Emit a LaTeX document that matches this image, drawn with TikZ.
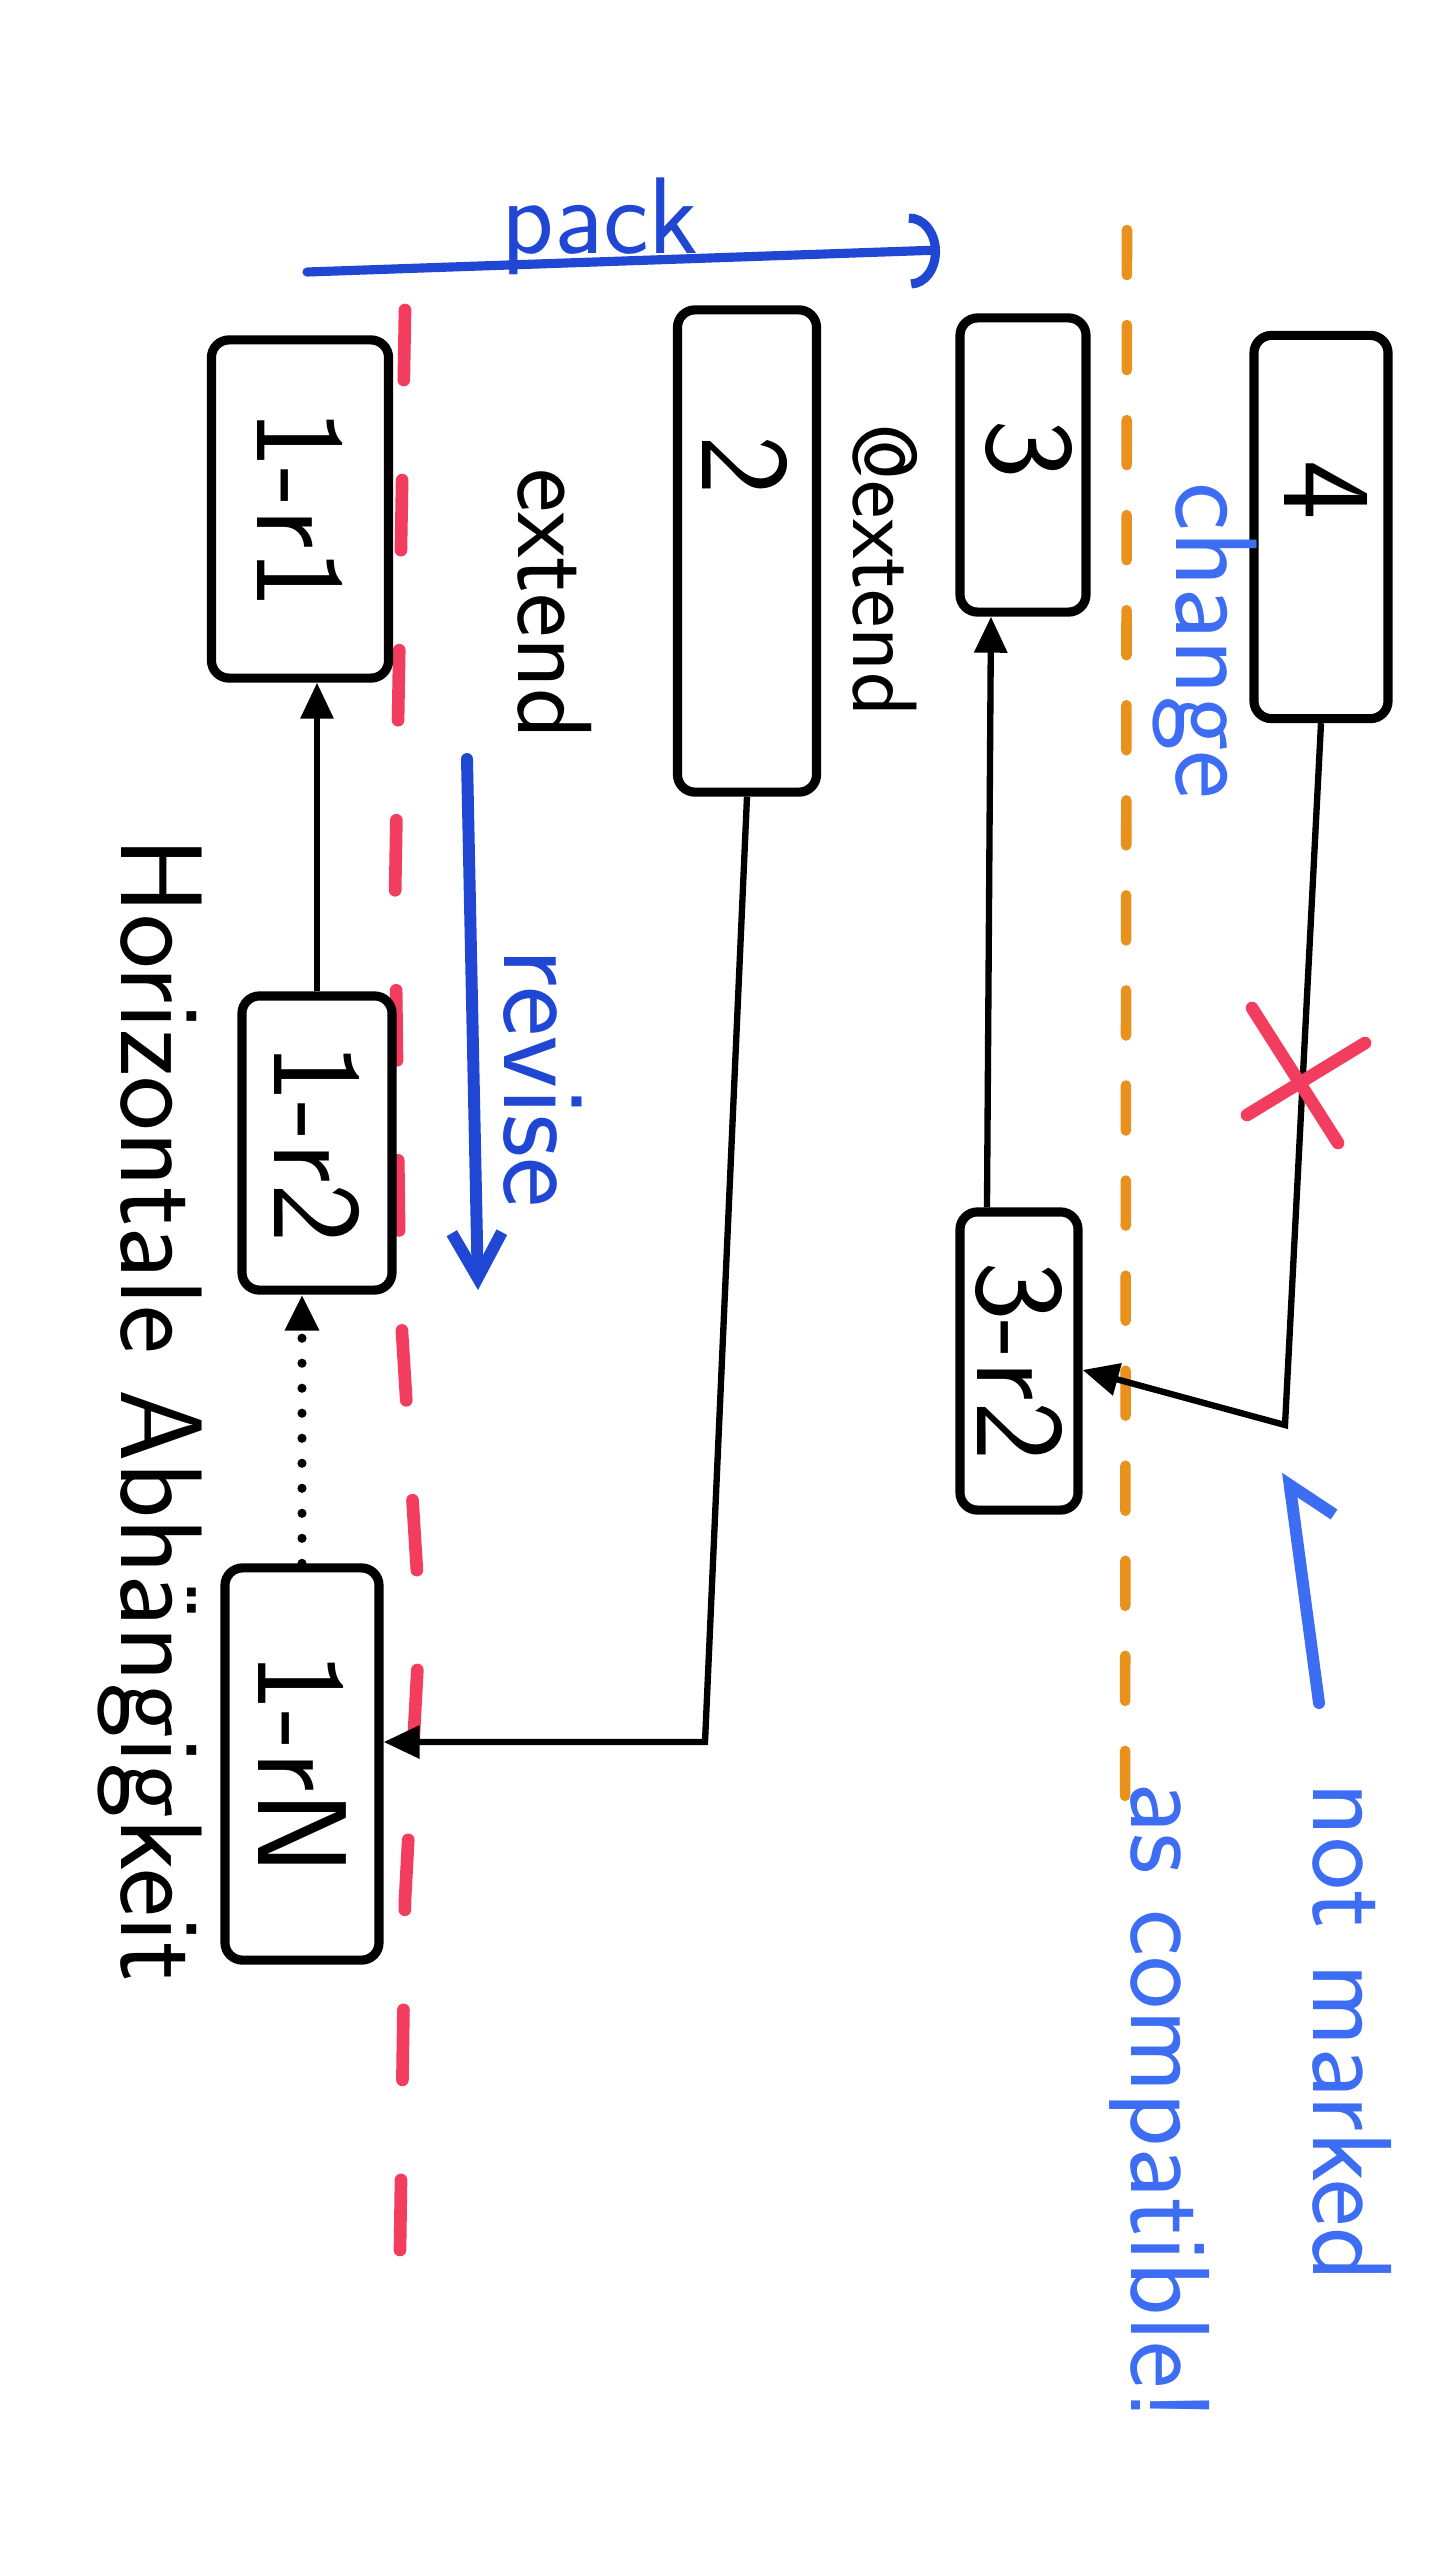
\documentclass[tikz,border=0pt]{standalone}
\usepackage{fontspec}
\usepackage{tikz}
\usetikzlibrary{arrows.meta, positioning}

\definecolor{penblue}{HTML}{1F47D4}
\definecolor{lightpen}{HTML}{3D6DF2}
\definecolor{penred}{HTML}{F23D5E}
\definecolor{penorange}{HTML}{E8911D}

\newcommand{\vtext}[1]{\rotatebox{-90}{#1}}

\tikzset{
    box/.style={draw, line width=2.6pt, rounded corners=5pt, inner sep=0pt,
        font=\sffamily\fontsize{36}{40}\selectfont},
    boxlabel/.style={inner sep=0pt, font=\sffamily\fontsize{36}{40}\selectfont},
    note/.style={inner sep=0pt, font=\sffamily\fontsize{30}{36}\selectfont},
    wide/.style={inner sep=0pt,
        font=\sffamily\fontsize{#1}{#1}\selectfont\addfontfeature{LetterSpace=5}},
    link/.style={line width=1.8pt, -{Triangle[length=0.36cm, width=0.32cm]}},
    redline/.style={penred, line width=3.6pt, line cap=round, dash pattern=on 0.7cm off 1cm},
    orangeline/.style={penorange, line width=3pt, line cap=round, dash pattern=on 0.45cm off 0.5cm},
}

\begin{document}
\begin{tikzpicture}[x=0.01cm, y=-0.01cm, node distance=0.5cm]
    \useasboundingbox [fill=white] (0,0) rectangle (1440,2560);

    % dashed borders
    \coordinate (red0) at (405,310);
    \coordinate (red1) at (395,900);
    \coordinate (red2) at (400,1300);
    \coordinate (red3) at (420,1620);
    \coordinate (red4) at (405,1900);
    \coordinate (red5) at (400,2250);
    \draw [redline] (red0) -- (red1) -- (red2) -- (red3) -- (red4) -- (red5);

    \coordinate (org0) at (1127,230);
    \coordinate (org1) at (1125,1835);
    \draw [orangeline] (org0) -- (org1);

    % revisions of 1
    \node (r1) [box, minimum width=1.77cm, minimum height=3.38cm] at (300,509) {\vtext{1-r1}};
    \node (r2) [box, minimum width=1.50cm, minimum height=2.94cm] at (317,1143) {\vtext{1-r2}};
    \node (rN) [box, minimum width=1.54cm, minimum height=3.92cm] at (302,1764) {\vtext{1-rN}};

    % the other ones
    \node (b2) [box, minimum width=1.39cm, minimum height=4.82cm] at (747,551) {};
    \node (b3) [box, minimum width=1.26cm, minimum height=2.94cm] at (1023,465) {};
    \node (b4) [box, minimum width=1.34cm, minimum height=3.83cm] at (1321,527) {};
    \node (r32) [box, minimum width=1.18cm, minimum height=2.98cm] at (1019,1361) {\vtext{3-r2}};

    \node (n2) [boxlabel] at (745,465) {\vtext{2}};
    \node (n3) [boxlabel] at (1029,449) {\vtext{3}};
    \node (n4) [boxlabel] at (1326,490) {\vtext{4}};

    % dependencies
    \coordinate (c2bend) at (705,1742);
    \coordinate (c4bend) at (1285,1425);
    \draw [link] (r2.north) -- (r2.north |- r1.south);
    \draw [link, dash pattern=on 0pt off 0.25cm, line width=2.6pt, line cap=round]
        (rN.north) -- (rN.north |- r2.south);
    \draw [link] (b2.south) -- (c2bend) -- (c2bend -| rN.east);
    \draw [link] ([xshift=-0.32cm]r32.north) -- ([xshift=-0.32cm]b3.south);
    \draw [link] (b4.south) -- (c4bend) -- (r32.-8);

    % broken one
    \coordinate (xa0) at (1252,1008);
    \coordinate (xa1) at (1338,1143);
    \coordinate (xb0) at (1247,1115);
    \coordinate (xb1) at (1365,1043);
    \draw [penred, line width=3.6pt, line cap=round] (xa0) -- (xa1) (xb0) -- (xb1);

    % blue remarks
    \coordinate (packL) at (307,272);
    \coordinate (packR) at (940,250);
    \draw [penblue, line width=2.6pt, line cap=round,
        -{Arc Barb[length=0.3cm, width=0.75cm]}] (packL) -- (packR);
    \node (lblpack) [wide=31, penblue] at (600,226) {pack};

    \coordinate (revT) at (467,759);
    \coordinate (revB) at (478,1290);
    \draw [penblue, line width=3.4pt, line cap=round,
        -{Straight Barb[length=0.45cm, width=0.5cm]}] (revT) -- (revB);
    \node (lblrevise) [wide=34, penblue] at (543,1078) {\vtext{revise}};

    \node (lblchange) [wide=33, lightpen] at (1205,641) {\vtext{change}};

    \coordinate (warnB) at (1319,1703);
    \coordinate (warnT) at (1288,1472);
    \draw [lightpen, line width=3.4pt, line cap=round,
        -{Straight Barb[right, length=0.35cm, width=0.8cm]}] (warnB) -- (warnT);
    \node (lblwarn) [wide=32, lightpen, anchor=north] at (1245,1782)
        {\vtext{\begin{tabular}{@{}l@{}}not marked\\[20pt]as compatible!\end{tabular}}};

    % black remarks
    \node (lblext) [note] at (555,604) {\vtext{extend}};
    \node (lblext3) [note, font=\sffamily\fontsize{26}{30}\selectfont] at (885,570) {\vtext{@extend}};
    \node (lblhoriz) [wide=33] at (150,1410)
        {\vtext{Horizontale Abhängigkeit}};
\end{tikzpicture}
\end{document}
